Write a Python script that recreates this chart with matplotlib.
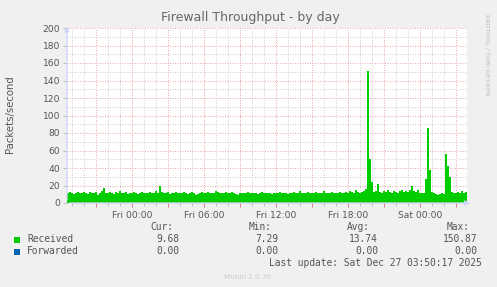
import numpy as np
import matplotlib
matplotlib.use("Agg")
import matplotlib.pyplot as plt
from matplotlib.patches import Rectangle

W, H = 497, 287

# received packets/s, one value per 10 minutes, starting Thu 18:35
received = [
    11, 13, 12, 10, 12, 13, 11, 12, 13, 12, 10, 13, 12, 11, 13, 9, 12, 14, 17, 12,
    11, 13, 12, 10, 13, 12, 14, 11, 12, 13, 10, 12, 11, 13, 12, 10, 11, 13, 12, 11,
    12, 13, 11, 12, 14, 12, 19, 13, 11, 12, 13, 10, 12, 11, 13, 12, 11, 12, 13, 11,
    10, 12, 13, 11, 9, 10, 12, 13, 12, 11, 13, 12, 11, 12, 14, 13, 12, 11, 12, 13,
    12, 11, 13, 12, 10, 9, 11, 12, 11, 12, 13, 11, 12, 11, 12, 10, 12, 13, 12, 11,
    12, 11, 10, 12, 11, 12, 13, 11, 12, 11, 10, 11, 12, 13, 11, 12, 14, 12, 11, 12,
    13, 12, 11, 12, 13, 11, 12, 11, 14, 12, 11, 12, 13, 12, 11, 12, 13, 11, 12, 13,
    12, 14, 13, 11, 15, 13, 12, 13, 14, 16,
    150.87, 50, 24, 13, 14, 22, 13, 12, 14, 13,
    15, 13, 12, 14, 13, 12, 14, 15, 13, 14,
    13, 15, 20, 14, 13, 15, 12, 11, 12, 28,
    86, 38, 13, 11, 10, 9, 10, 11, 10, 56,
    42, 30, 13, 11, 12, 13, 11, 14, 12, 13,
]
forwarded = [0.0] * len(received)

start_h = -5.43          # hours relative to Fri 00:00
step_h = 1 / 6
x_labels = ["Fri 00:00", "Fri 06:00", "Fri 12:00", "Fri 18:00", "Sat 00:00"]
x_label_pos = [0, 6, 12, 18, 24]

legend_names = ["Received", "Forwarded"]
legend_colors = ["#00CC00", "#0066B3"]
cur = ["9.68", "0.00"]
mins = ["7.29", "0.00"]
avgs = ["13.74", "0.00"]
maxs = ["150.87", "0.00"]

fig = plt.figure(figsize=(W / 100, H / 100), dpi=100, facecolor="#F0F0F0")
ax = fig.add_axes([67 / W, (H - 203) / H, 400 / W, 175 / H])
ax.set_facecolor("white")

n = len(received)
xs = start_h + np.arange(n + 1) * step_h
ys = np.array(received + [received[-1]])
# forwarded is flat zero, hidden under the received area
ax.step(xs, np.array(forwarded + [0]), where="post", color="#0066B3", lw=0.5, zorder=1)
ax.fill_between(xs, 0, ys, step="post", color="#00CC00", lw=0, zorder=2)

x0, x1 = start_h, start_h + 400 / 12
ax.set_xlim(x0, x1)
ax.set_ylim(0, 200)

# grid
dash = (0, (1, 1.5))
for v in range(10, 200, 20):
    ax.axhline(v, color="#d0d0d0", lw=0.72, ls=dash, zorder=0)
for v in range(20, 201, 20):
    ax.axhline(v, color="#e8a8a8", lw=0.72, ls=dash, zorder=0)
for h in range(-5, 28):
    if h % 3:
        ax.axvline(h, color="#d0d0d0", lw=0.72, ls=dash, zorder=0)
for h in range(-3, 28, 3):
    ax.axvline(h, color="#e8a8a8", lw=0.72, ls=dash, zorder=0)

for s in ax.spines.values():
    s.set_visible(False)

ax.set_yticks(range(0, 201, 20))
ax.tick_params(axis="y", length=3, width=0.7, color="#bbbbbb", labelsize=6.6,
               labelcolor="#555555", pad=2)
ax.set_xticks(range(-3, 28, 3))
ax.set_xticklabels(["" if h not in x_label_pos else x_labels[x_label_pos.index(h)]
                    for h in range(-3, 28, 3)])
ax.set_xticks([h for h in range(-5, 28) if h % 3], minor=True)
ax.tick_params(axis="x", which="major", length=3, width=0.7, color="#e08080",
               labelsize=6.6, labelcolor="#555555", pad=3)
ax.tick_params(axis="x", which="minor", length=2, width=0.7, color="#bbbbbb")

# axes with arrows
axis_col = "#CFD6F8"
ax.annotate("", xy=(1.015, 0), xytext=(0, 0), xycoords="axes fraction",
            arrowprops=dict(arrowstyle="-|>", color=axis_col, lw=1,
                            mutation_scale=7), annotation_clip=False, zorder=3)
ax.annotate("", xy=(0, 1.025), xytext=(0, 0), xycoords="axes fraction",
            arrowprops=dict(arrowstyle="-|>", color=axis_col, lw=1,
                            mutation_scale=7), annotation_clip=False, zorder=3)


def px(x, y):
    return x / W, 1 - y / H


fig.text(*px(250, 18), "Firewall Throughput - by day", ha="center", va="center",
         fontsize=9, color="#666666")
fig.text(*px(10, 114.5), "Packets/second", rotation=90, ha="center", va="center",
         fontsize=7.3, color="#555555")
fig.text(*px(487, 55), "RRDTOOL / TOBI OETIKER", rotation=270, ha="center",
         va="center", fontsize=4.6, color="#bbbbbb")
fig.text(*px(248, 277), "Munin 2.0.76", ha="center", va="center",
         fontsize=5.2, color="#cccccc")

mono = dict(family="DejaVu Sans Mono", fontsize=6.9, color="#555555", va="center")
head_x = [173, 272, 370, 470]
val_x = [179, 278, 378, 477]
for hx, lbl in zip(head_x, ["Cur:", "Min:", "Avg:", "Max:"]):
    fig.text(*px(hx, 227.5), lbl, ha="right", **mono)

rows_y = [239.5, 251.5]
for i, yy in enumerate(rows_y):
    fig.add_artist(Rectangle(px(14, yy + 3), 6 / W, 6 / H, transform=fig.transFigure,
                             color=legend_colors[i], lw=0))
    fig.text(*px(27, yy), legend_names[i], ha="left", **mono)
    for vx, col in zip(val_x, [cur, mins, avgs, maxs]):
        fig.text(*px(vx, yy), col[i], ha="right", **mono)

fig.text(*px(482, 263.5), "Last update: Sat Dec 27 03:50:17 2025", ha="right", **mono)

fig.savefig("out.png", dpi=100, facecolor=fig.get_facecolor())
